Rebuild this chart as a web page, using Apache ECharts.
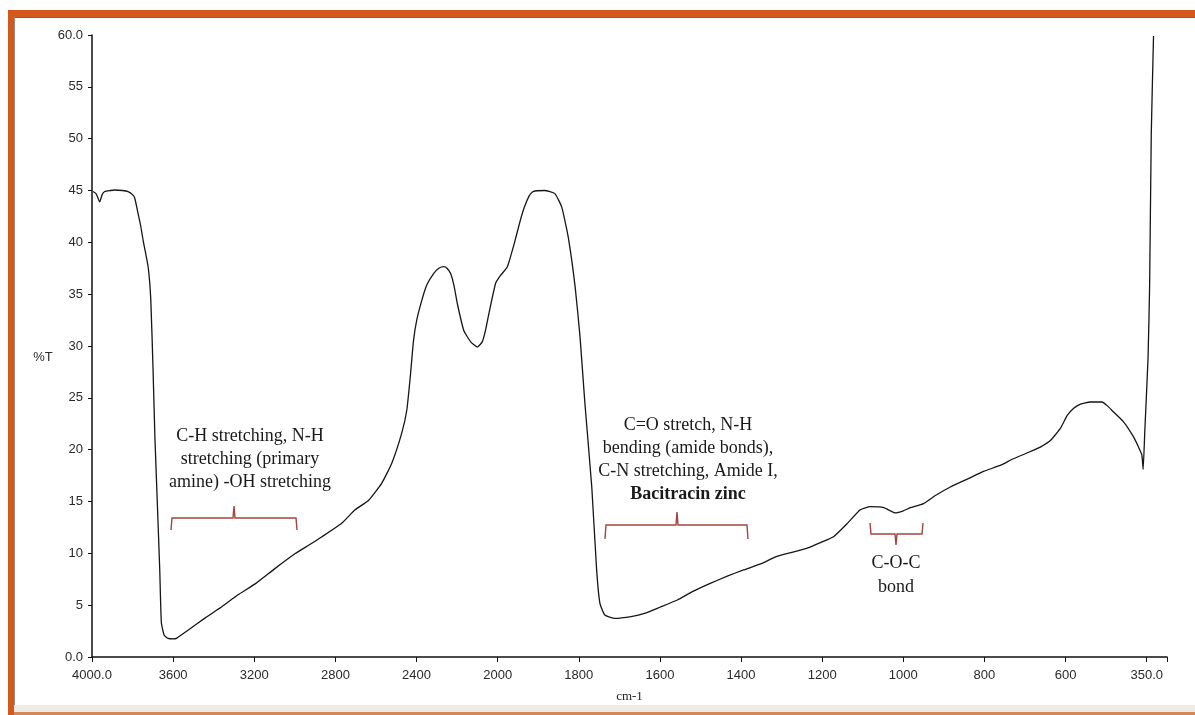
<!DOCTYPE html>
<html>
<head>
<meta charset="utf-8">
<script src="https://cdn.jsdelivr.net/npm/echarts@6/dist/echarts.min.js"></script>
<style>
  html, body { margin: 0; padding: 0; background: #ffffff; }
  #chart { width: 1195px; height: 715px; }
</style>
</head>
<body>
<div id="chart"></div>
<script>
// ---- Data ----
const xTickValues = [4000, 3600, 3200, 2800, 2400, 2000, 1800, 1600, 1400, 1200, 1000, 800, 600, 350];
const xTickLabels = ['4000.0', '3600', '3200', '2800', '2400', '2000', '1800', '1600', '1400', '1200', '1000', '800', '600', '350.0'];
const yTickLabels = ['0.0', '5', '10', '15', '20', '25', '30', '35', '40', '45', '50', '55', '60.0'];

const wavenumbers = [
  3995, 3980, 3962, 3950, 3937, 3910, 3888, 3850, 3822, 3800, 3789, 3773, 3760, 3748, 3723,
  3710, 3699, 3690, 3678, 3666, 3658, 3644, 3625, 3600, 3584, 3525, 3440, 3360, 3280, 3192,
  3100, 2996, 2930, 2866, 2769, 2703, 2637, 2572, 2522, 2473, 2448, 2431, 2415, 2399, 2374,
  2349, 2315, 2290, 2265, 2250, 2232, 2215, 2199, 2167, 2133, 2100, 2076, 2060, 2043, 2010,
  1992, 1976, 1959, 1945, 1934, 1922, 1913, 1884, 1859, 1842, 1826, 1809, 1797, 1785, 1768,
  1756, 1748, 1736, 1711, 1671, 1638, 1600, 1557, 1520, 1476, 1434, 1394, 1350, 1312, 1254,
  1230, 1200, 1172, 1140, 1106, 1081, 1048, 1020, 1000, 983, 950, 920, 884, 840, 802,
  760, 730, 694, 660, 637, 612, 595, 575, 554, 524, 488, 470, 453, 422, 392,
  376, 365, 361, 356, 346, 341, 336, 329
];
const transmittance = [
  44.9, 44.7, 43.9, 44.6, 44.9, 45.0, 45.05, 45.0, 44.9, 44.6, 44.25, 42.8, 41.6, 40.2, 37.6,
  34.4, 27.7, 21.3, 14.9, 8.4, 3.3, 2.1, 1.8, 1.75, 1.8, 2.6, 3.8, 4.85, 6.0, 7.1,
  8.5, 10.0, 10.8, 11.6, 12.9, 14.2, 15.1, 16.75, 18.7, 21.6, 23.8, 27.0, 30.5, 32.5, 34.4,
  35.9, 37.0, 37.5, 37.65, 37.5, 37.0, 35.8, 34.1, 31.5, 30.4, 29.9, 30.4, 31.5, 33.15, 36.05,
  36.85, 37.65, 39.9, 42.0, 43.4, 44.5, 44.9, 45.0, 44.7, 43.4, 40.5, 35.7, 30.9, 24.5, 16.4,
  8.4, 5.2, 4.05, 3.73, 3.9, 4.2, 4.8, 5.5, 6.3, 7.1, 7.8, 8.4, 9.0, 9.7, 10.3,
  10.6, 11.1, 11.6, 12.8, 14.2, 14.5, 14.4, 13.9, 14.1, 14.4, 14.8, 15.6, 16.4, 17.2, 17.9,
  18.5, 19.1, 19.7, 20.3, 20.9, 22.1, 23.3, 24.0, 24.4, 24.6, 24.6, 24.2, 23.65, 22.7, 21.3,
  20.3, 19.5, 18.1, 21.7, 28.8, 35.9, 50.4, 59.9
];

const annotationTexts = [
  'C-H stretching, N-H\nstretching (primary\namine) -OH stretching',
  'C=O stretch, N-H\nbending (amide bonds),\nC-N stretching, Amide I,\n{b|Bacitracin zinc}',
  'C-O-C\nbond'
];

// The instrument's x scale changes between tick intervals; map wavenumber to tick position.
function wnToPos(wn) {
  for (let i = 0; i < xTickValues.length - 1; i++) {
    const a = xTickValues[i], b = xTickValues[i + 1];
    if (wn <= a && wn >= b) return i + (a - wn) / (a - b);
  }
  if (wn > xTickValues[0]) return -(wn - xTickValues[0]) / 400;
  const n = xTickValues.length - 1;
  return n + (xTickValues[n] - wn) / 250;
}

const seriesData = wavenumbers.map((w, i) => [wnToPos(w), transmittance[i]]);

const chart = echarts.init(document.getElementById('chart'), null, { renderer: 'canvas' });

const narrow = '"Liberation Sans Narrow", "Liberation Sans", Arial, sans-serif';
const serif = '"Liberation Serif", "DejaVu Serif", serif';
const orange = '#d2581c';
const bracketColor = '#a3453e';

function bracket(points) {
  return {
    type: 'polyline',
    shape: { points: points },
    style: { stroke: bracketColor, lineWidth: 1.4, fill: null },
    z: 10
  };
}
function label(x, y, text, lh) {
  return {
    type: 'text',
    x: x, y: y,
    style: {
      text: text,
      fill: '#1a1a1a',
      font: '18px ' + serif,
      align: 'center',
      verticalAlign: 'top',
      lineHeight: lh,
      rich: {
        b: { font: 'bold 18px ' + serif, fill: '#1a1a1a', lineHeight: lh }
      }
    },
    z: 10
  };
}

const option = {
  backgroundColor: '#ffffff',
  animation: false,
  grid: { left: 92, right: 28, top: 35, bottom: 58, containLabel: false, outerBoundsMode: 'none' },
  xAxis: {
    type: 'value',
    min: 0,
    max: 13.25,
    interval: 1,
    name: 'cm-1',
    nameLocation: 'middle',
    nameGap: 33,
    nameTextStyle: { fontFamily: serif, fontSize: 13, color: '#222' },
    axisLine: { show: true, onZero: false, lineStyle: { color: '#111', width: 1.5 } },
    axisTick: { show: true, length: 5, lineStyle: { color: '#111', width: 1 } },
    axisLabel: {
      margin: 12,
      fontFamily: narrow,
      fontSize: 13,
      color: '#2a2a2a',
      formatter: function (v) {
        const r = Math.round(v);
        return Math.abs(v - r) < 1e-6 && xTickLabels[r] !== undefined ? xTickLabels[r] : '';
      }
    },
    splitLine: { show: false }
  },
  yAxis: {
    type: 'value',
    min: 0,
    max: 60,
    interval: 5,
    axisLine: { show: true, lineStyle: { color: '#111', width: 1.5 } },
    axisTick: { show: true, length: 4, lineStyle: { color: '#111', width: 1 } },
    axisLabel: {
      margin: 9,
      fontFamily: narrow,
      fontSize: 13,
      color: '#2a2a2a',
      formatter: function (v) { return yTickLabels[Math.round(v / 5)]; }
    },
    splitLine: { show: false }
  },
  series: [{
    type: 'line',
    data: seriesData,
    showSymbol: false,
    smooth: 0.15,
    lineStyle: { color: '#151515', width: 1.3 },
    z: 5
  }],
  graphic: [
    // page frame
    { type: 'rect', shape: { x: 8, y: 10, width: 1187, height: 7 }, style: { fill: orange }, z: 20 },
    { type: 'rect', shape: { x: 14, y: 17, width: 1181, height: 1 }, style: { fill: '#6e625a' }, z: 20 },
    { type: 'rect', shape: { x: 8, y: 10, width: 6, height: 705 }, style: { fill: orange }, z: 20 },
    { type: 'rect', shape: { x: 14, y: 17, width: 1, height: 688 }, style: { fill: '#9a8c84' }, z: 20 },
    { type: 'rect', shape: { x: 14, y: 705, width: 1181, height: 7 }, style: { fill: '#eeebe7' }, z: 20 },
    { type: 'rect', shape: { x: 14, y: 712, width: 1181, height: 3 }, style: { fill: '#d4885a' }, z: 20 },
    // y axis name
    { type: 'text', x: 43, y: 357, style: { text: '%T', font: '13px ' + narrow, fill: '#2a2a2a', align: 'center', verticalAlign: 'middle' }, z: 10 },
    // annotations
    bracket([[171, 530], [172, 518], [233, 518], [234, 506], [235, 518], [296, 518], [297, 530]]),
    label(250, 425, annotationTexts[0], 23),
    bracket([[605, 539], [606, 525], [676, 525], [677, 512], [678, 525], [747, 525], [748, 539]]),
    label(688, 414, annotationTexts[1], 23),
    bracket([[870, 523], [871, 534], [895, 534], [896, 545], [897, 534], [922, 534], [923, 523]]),
    label(896, 551, annotationTexts[2], 24)
  ]
};

chart.setOption(option);
</script>
</body>
</html>
